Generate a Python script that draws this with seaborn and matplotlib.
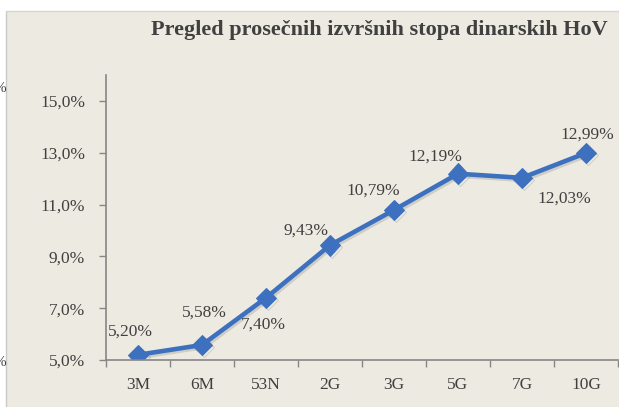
import pandas as pd
import seaborn as sns
import matplotlib.pyplot as plt
import matplotlib.patheffects as pe
from matplotlib.patches import Rectangle
from matplotlib.lines import Line2D

rokovi = ['3M', '6M', '53N', '2G', '3G', '5G', '7G', '10G']
stope = [5.20, 5.58, 7.40, 9.43, 10.79, 12.19, 12.03, 12.99]
oznake = ['5,20%', '5,58%', '7,40%', '9,43%', '10,79%', '12,19%', '12,03%', '12,99%']
y_ticks = [5, 7, 9, 11, 13, 15]
y_labels = ['5,0%', '7,0%', '9,0%', '11,0%', '13,0%', '15,0%']

# label offsets in pixels (dx, dy)
pomaci = [(-8, 23), (2, 32), (-3, -27), (-24, 15), (-21, 19), (-23, 17), (42, -21), (1, 18)]

df = pd.DataFrame({'rok': rokovi, 'stopa': stope})

sns.set_style('white')
plt.rcParams['font.family'] = ['Liberation Serif', 'DejaVu Serif']

fig = plt.figure(figsize=(6.19, 4.07), dpi=100)
bg = '#EDEBE1'
fig.patches.append(Rectangle((6 / 619, 0), 1, 1 - 11 / 407, transform=fig.transFigure,
                             facecolor=bg, edgecolor='none', zorder=-10))
fig.lines.append(Line2D([6 / 619, 6 / 619], [0, 1 - 11 / 407], transform=fig.transFigure,
                        color='#C9C9C9', lw=1, zorder=-5))
fig.lines.append(Line2D([6 / 619, 1], [1 - 11 / 407, 1 - 11 / 407], transform=fig.transFigure,
                        color='#D5D5D8', lw=1, zorder=-5))
fig.text(6 / 619, 1 - 88 / 407, '%', ha='right', va='center', fontsize=11, color='#404040')
fig.text(6 / 619, 1 - 363 / 407, '%', ha='right', va='center', fontsize=11, color='#404040')

ax = fig.add_axes([106 / 619, 47 / 407, 512 / 619, 285 / 407])
ax.set_facecolor('none')

sns.lineplot(x='rok', y='stopa', data=df, sort=False, ax=ax, color='#3D71C0',
             linewidth=3.3, marker='D', markersize=10.5, markeredgecolor='#3D71C0')
for ln in ax.lines:
    ln.set_path_effects([pe.SimpleLineShadow(offset=(1.2, -1.5), shadow_color='#666666', alpha=0.22),
                         pe.Normal()])

for i, (v, t) in enumerate(zip(stope, oznake)):
    ax.annotate(t, (i, v), xytext=pomaci[i], textcoords='offset pixels',
                ha='center', va='center', fontsize=12.5, color='#404040')

ax.set_xlim(-0.5, 7.5)
ax.set_ylim(5, 16)
ax.set_yticks(y_ticks)
ax.set_yticklabels(y_labels)
ax.set_xticks(range(len(rokovi)))
ax.set_xticklabels(rokovi)
ax.set_xticks([i - 0.5 for i in range(len(rokovi) + 1)], minor=True)
ax.tick_params(axis='x', which='major', length=0, pad=12, labelsize=12.5, labelcolor='#404040')
ax.tick_params(axis='x', which='minor', length=5, width=1, color='#868686', direction='out', bottom=True)
ax.tick_params(axis='y', length=5, width=1, color='#868686', direction='out', left=True,
               pad=10, labelsize=12.5, labelcolor='#404040')
ax.set_xlabel('')
ax.set_ylabel('')
for s in ['top', 'right']:
    ax.spines[s].set_visible(False)
for s in ['left', 'bottom']:
    ax.spines[s].set_color('#868686')
    ax.spines[s].set_linewidth(1.2)

fig.text(379 / 619, 1 - 30 / 407, 'Pregled prosečnih izvršnih stopa dinarskih HoV',
         ha='center', va='center', fontsize=16, fontweight='bold', color='#404040')

fig.savefig('out.png', dpi=100, facecolor='white')
